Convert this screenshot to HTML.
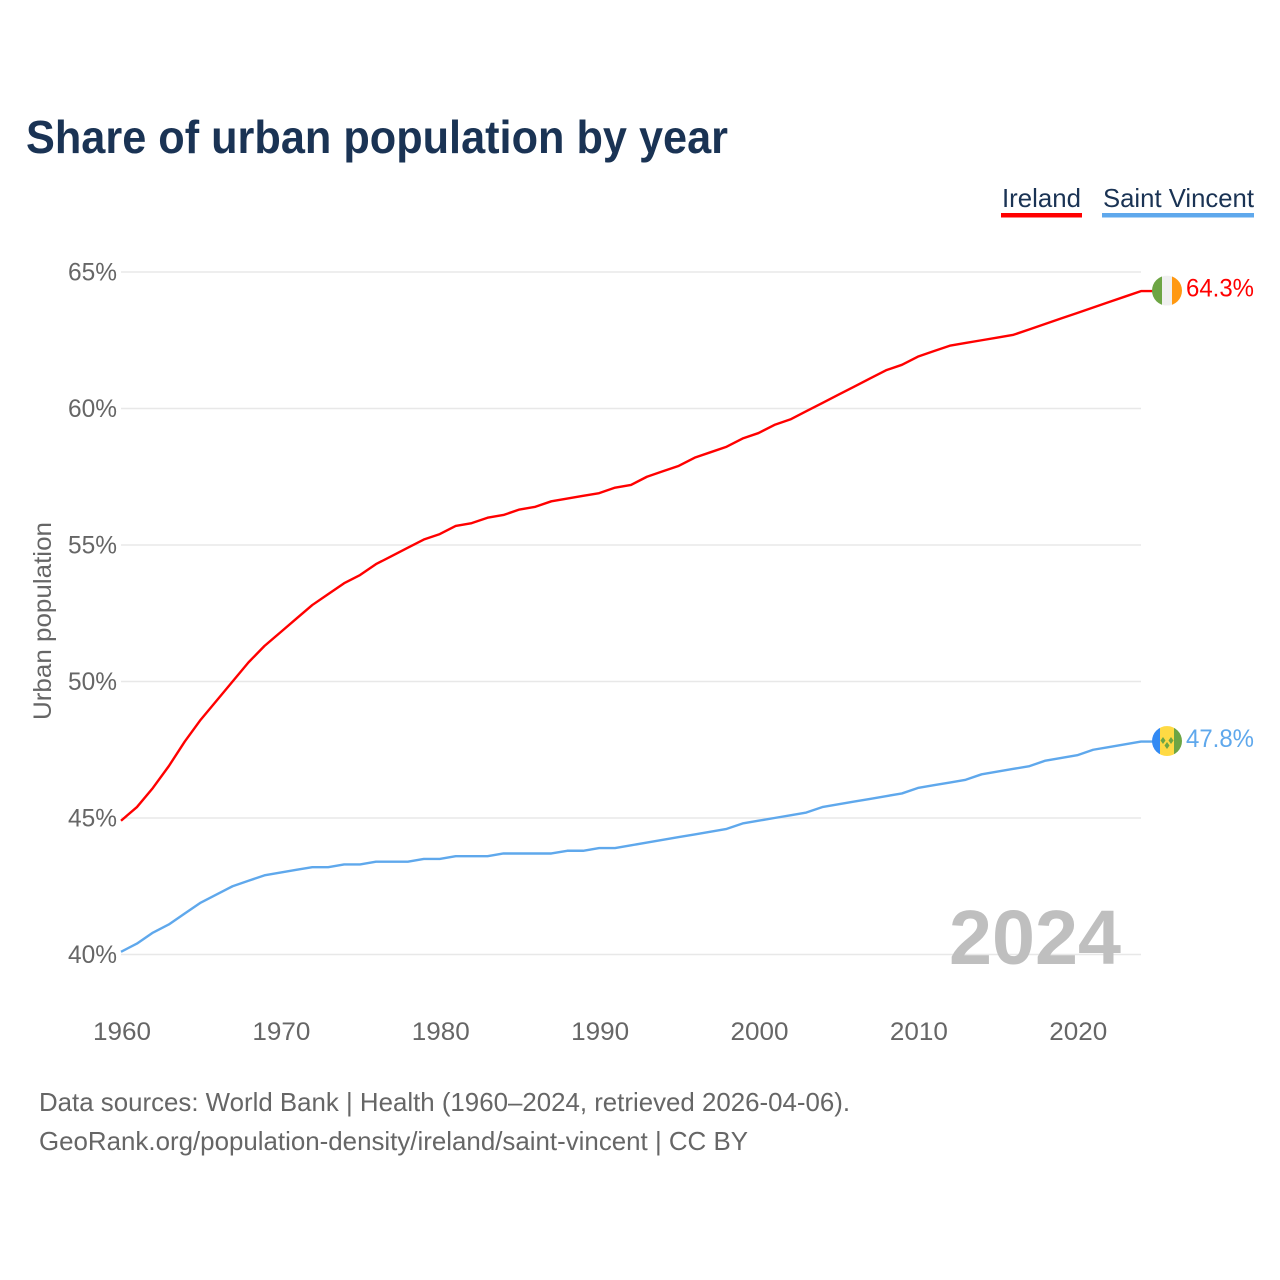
<!DOCTYPE html>
<html lang="en">
<head>
<meta charset="utf-8">
<title>Share of urban population by year</title>
<style>
  html, body { margin: 0; padding: 0; background: #ffffff; }
  #chart { display: block; width: 1280px; height: 1280px; font-family: "Liberation Sans", sans-serif; }
</style>
</head>
<body>
<svg id="chart" xmlns="http://www.w3.org/2000/svg" width="1280" height="1280" viewBox="0 0 1280 1280">
  <defs>
    <clipPath id="flag-clip-a"><circle cx="15" cy="15" r="15"></circle></clipPath>
    <clipPath id="flag-clip-b"><circle cx="15" cy="15" r="15"></circle></clipPath>
  </defs>
  <rect width="1280" height="1280" fill="#ffffff"></rect>
  <text x="26" y="153" font-size="46" font-weight="700" fill="#1a3354" textLength="702" lengthAdjust="spacingAndGlyphs">Share of urban population by year</text>

  <g>
    <g>
      <text x="1002" y="207" font-size="26" fill="#1a3354" textLength="79" lengthAdjust="spacingAndGlyphs">Ireland</text>
      <rect x="1001" y="213" width="81" height="4.5" fill="#ff0000"></rect>
    </g>
    <g>
      <text x="1103" y="207" font-size="26" fill="#1a3354" textLength="151" lengthAdjust="spacingAndGlyphs">Saint Vincent</text>
      <rect x="1102" y="213" width="152" height="4.5" fill="#5fa8ec"></rect>
    </g>
  </g>

  <g id="grid"></g>
  <g id="y-ticks"></g>
  <g id="x-ticks"></g>

  <text transform="translate(51 621) rotate(-90)" text-anchor="middle" font-size="25" fill="#666666" textLength="198" lengthAdjust="spacingAndGlyphs">Urban population</text>

  <text x="949" y="964" font-size="77" font-weight="700" fill="#bfbfbf" textLength="172" lengthAdjust="spacingAndGlyphs">2024</text>

  <g id="series"></g>

  <g id="flag-ireland">
    <g clip-path="url(#flag-clip-a)">
      <rect x="0" y="0" width="10" height="30" fill="#6da544"></rect>
      <rect x="10" y="0" width="10" height="30" fill="#f0f0f0"></rect>
      <rect x="20" y="0" width="10" height="30" fill="#ff9811"></rect>
    </g>
  </g>
  <g id="flag-saint-vincent">
    <g clip-path="url(#flag-clip-b)">
      <rect x="0" y="0" width="8" height="30" fill="#338af3"></rect>
      <rect x="8" y="0" width="14" height="30" fill="#ffda44"></rect>
      <rect x="22" y="0" width="8" height="30" fill="#6da544"></rect>
      <polygon points="11,11 13.5,14.5 11,18 8.5,14.5" fill="#6da544"></polygon>
      <polygon points="19,11 21.5,14.5 19,18 16.5,14.5" fill="#6da544"></polygon>
      <polygon points="15,16 17.5,19.5 15,23 12.5,19.5" fill="#6da544"></polygon>
    </g>
  </g>
  <text id="label-ireland" x="1186" font-size="25" fill="#ff0000" textLength="68" lengthAdjust="spacingAndGlyphs"></text>
  <text id="label-saint-vincent" x="1186" font-size="25" fill="#5fa8ec" textLength="68" lengthAdjust="spacingAndGlyphs"></text>

  <text x="39" y="1111" font-size="26" fill="#666666" textLength="811" lengthAdjust="spacingAndGlyphs">Data sources: World Bank | Health (1960–2024, retrieved 2026-04-06).</text>
  <a><text x="39" y="1150" font-size="26" fill="#666666" textLength="709" lengthAdjust="spacingAndGlyphs">GeoRank.org/population-density/ireland/saint-vincent | CC BY</text></a>
</svg>

<script>
const startYear = 1960;
const irelandValues = [
  44.9, 45.4, 46.1, 46.9, 47.8, 48.6, 49.3, 50.0, 50.7, 51.3,
  51.8, 52.3, 52.8, 53.2, 53.6, 53.9, 54.3, 54.6, 54.9, 55.2,
  55.4, 55.7, 55.8, 56.0, 56.1, 56.3, 56.4, 56.6, 56.7, 56.8,
  56.9, 57.1, 57.2, 57.5, 57.7, 57.9, 58.2, 58.4, 58.6, 58.9,
  59.1, 59.4, 59.6, 59.9, 60.2, 60.5, 60.8, 61.1, 61.4, 61.6,
  61.9, 62.1, 62.3, 62.4, 62.5, 62.6, 62.7, 62.9, 63.1, 63.3,
  63.5, 63.7, 63.9, 64.1, 64.3
];
const saintVincentValues = [
  40.1, 40.4, 40.8, 41.1, 41.5, 41.9, 42.2, 42.5, 42.7, 42.9,
  43.0, 43.1, 43.2, 43.2, 43.3, 43.3, 43.4, 43.4, 43.4, 43.5,
  43.5, 43.6, 43.6, 43.6, 43.7, 43.7, 43.7, 43.7, 43.8, 43.8,
  43.9, 43.9, 44.0, 44.1, 44.2, 44.3, 44.4, 44.5, 44.6, 44.8,
  44.9, 45.0, 45.1, 45.2, 45.4, 45.5, 45.6, 45.7, 45.8, 45.9,
  46.1, 46.2, 46.3, 46.4, 46.6, 46.7, 46.8, 46.9, 47.1, 47.2,
  47.3, 47.5, 47.6, 47.7, 47.8
];
const yTickValues = [40, 45, 50, 55, 60, 65];
const xTickValues = [1960, 1970, 1980, 1990, 2000, 2010, 2020];

const NS = 'http://www.w3.org/2000/svg';
const plotLeft = 121;
const plotRight = 1141;
const yearSpan = 64;
function xScale(year) {
  return plotLeft + (year - startYear) * (plotRight - plotLeft) / yearSpan;
}
function yScale(value) {
  return 954.5 - (value - 40) * 27.3;
}

const gridGroup = document.getElementById('grid');
const yTickGroup = document.getElementById('y-ticks');
const xTickGroup = document.getElementById('x-ticks');
const seriesGroup = document.getElementById('series');

yTickValues.forEach(function (tick) {
  const line = document.createElementNS(NS, 'line');
  
  
  line.setAttribute('x1', plotLeft);
  line.setAttribute('x2', plotRight);
  line.setAttribute('y1', yScale(tick));
  line.setAttribute('y2', yScale(tick));
  line.setAttribute('stroke', '#e8e8e8');
  line.setAttribute('stroke-width', '1.5');
  gridGroup.appendChild(line);

  const label = document.createElementNS(NS, 'text');
  
  
  label.setAttribute('x', 68);
  label.setAttribute('y', yScale(tick) + 8.5);
  label.setAttribute('font-size', '25');
  label.setAttribute('fill', '#666666');
  label.setAttribute('textLength', '49');
  label.setAttribute('lengthAdjust', 'spacingAndGlyphs');
  label.textContent = tick + '%';
  yTickGroup.appendChild(label);
});

xTickValues.forEach(function (tick) {
  const label = document.createElementNS(NS, 'text');
  
  
  label.setAttribute('x', xScale(tick) - 28);
  label.setAttribute('y', 1040);
  label.setAttribute('font-size', '25');
  label.setAttribute('fill', '#666666');
  label.setAttribute('textLength', '58');
  label.setAttribute('lengthAdjust', 'spacingAndGlyphs');
  label.textContent = String(tick);
  xTickGroup.appendChild(label);
});

function drawSeries(values, color, seriesName, flagId, labelId) {
  const last = values[values.length - 1];
  const lastY = yScale(last);
  const commands = values.map(function (value, index) {
    return (index === 0 ? 'M' : 'L') + xScale(startYear + index).toFixed(2) + ' ' + yScale(value).toFixed(2);
  });
  commands.push('L' + (plotRight + 12) + ' ' + lastY.toFixed(2));
  const path = document.createElementNS(NS, 'path');
  
  
  path.setAttribute('d', commands.join(' '));
  path.setAttribute('fill', 'none');
  path.setAttribute('stroke', color);
  path.setAttribute('stroke-width', '2.4');
  path.setAttribute('stroke-linejoin', 'round');
  seriesGroup.appendChild(path);

  document.getElementById(flagId).setAttribute('transform', 'translate(1152 ' + (lastY - 15.5).toFixed(2) + ')');
  const label = document.getElementById(labelId);
  label.setAttribute('y', (lastY + 5.5).toFixed(2));
  label.textContent = last.toFixed(1) + '%';
}

drawSeries(irelandValues, '#ff0000', 'ireland', 'flag-ireland', 'label-ireland');
drawSeries(saintVincentValues, '#5fa8ec', 'saint-vincent', 'flag-saint-vincent', 'label-saint-vincent');
</script>
</body>
</html>
